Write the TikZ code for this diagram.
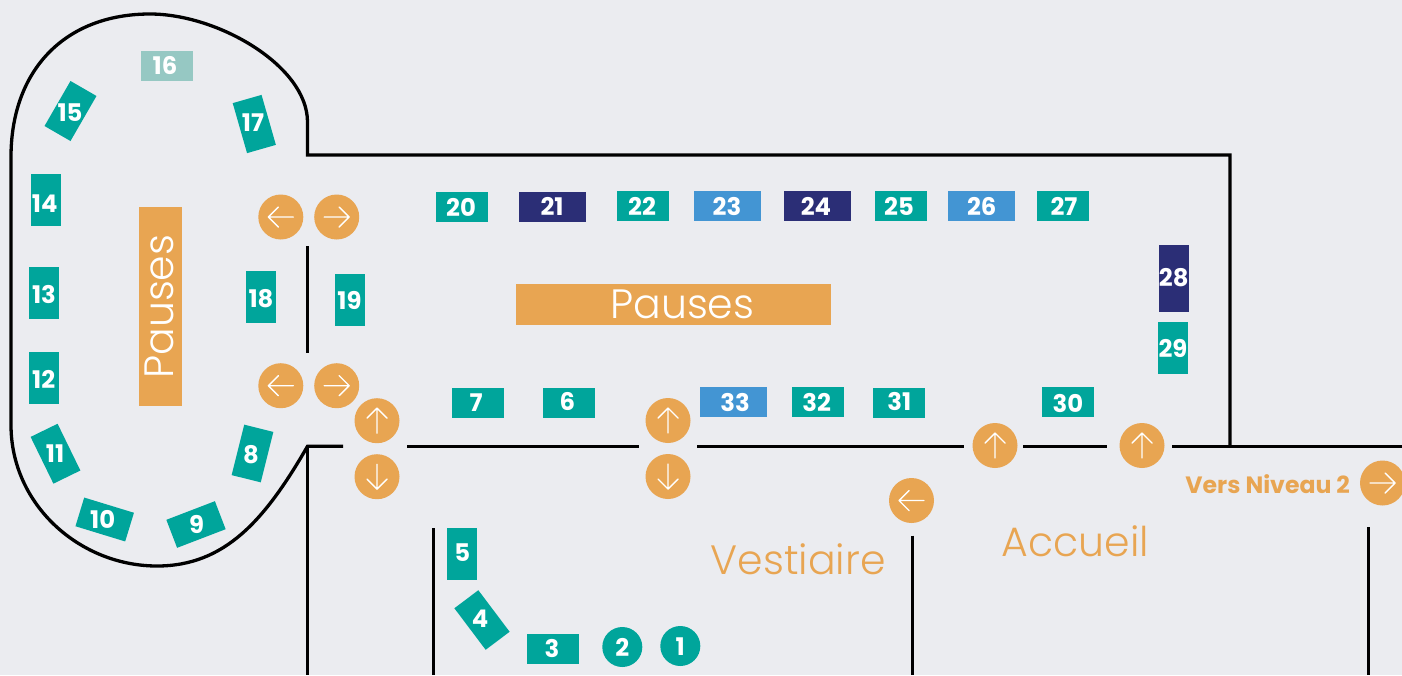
\documentclass[tikz,border=0pt]{standalone}
\usepackage{fontspec}
\setmainfont{Poppins}
\newfontfamily\poplight{Poppins Light}
\definecolor{bgc}{HTML}{EBECF0}
\definecolor{tealc}{HTML}{00A59B}
\definecolor{darkc}{HTML}{2B2E76}
\definecolor{bluec}{HTML}{4395D3}
\definecolor{orangec}{HTML}{E8A552}
\definecolor{palec}{HTML}{96C8C3}
\tikzset{
  stand/.style={fill=#1,draw=none,inner sep=0pt,outer sep=0pt},
  standlabel/.style={text=white,inner sep=0pt,yshift=-0.8pt,font=\fontsize{24.3}{24.3}\selectfont\bfseries},
  wall/.style={draw=black,line width=3.3pt,miter limit=10},
  doorc/.style={circle,fill=orangec,draw=none,minimum size=45pt,inner sep=0pt,outer sep=0pt},
  doorarrow/.style={draw=white,line width=1.4pt,line cap=round,line join=round},
  bigtext/.style={inner sep=0pt,font=\fontsize{41}{41}\selectfont\poplight},
  pausebox/.style={fill=orangec,draw=none,inner sep=0pt,outer sep=0pt}
}
% name, colour, cx, cy, w, h, rotation, label x, label y, text
\newcommand{\standbox}[9]{%
  \node[stand=#2,minimum width=#5pt,minimum height=#6pt,rotate=#7] (s#1) at (#3,#4) {};
  \node[standlabel] (t#1) at (#8,#9) {#1};
}
% name, x, y, angle
\newcommand{\door}[4]{%
  \node[doorc] (#1) at (#2,#3) {};
  \begin{scope}[shift={(#1.center)},rotate=#4]
    \draw[doorarrow] (-12.5,0) -- (12.5,0) (2.5,10) -- (12.5,0) -- (2.5,-10);
  \end{scope}
}
\begin{document}
\begin{tikzpicture}[x=1pt,y=-1pt]
\useasboundingbox (0,0) rectangle (1402,675);
\fill[bgc] (0,0) rectangle (1402,675);
\begin{scope}
\clip (0,0) rectangle (1402,675);
% walls
\draw[wall] (343,446.3) -- (307.5,446.3) .. controls (265,520) and (225,566) .. (157,566)
  .. controls (80,566) and (11,505) .. (11,425) -- (11,157)
  .. controls (11,70) and (65,14) .. (150,14)
  .. controls (218,14) and (307.5,66) .. (307.5,122) -- (307.5,155) -- (1230,155) -- (1230,446.7);
\draw[wall] (307.5,446.3) -- (307.5,675);
\draw[wall] (307.5,246) -- (307.5,353);
\draw[wall] (407,446.7) -- (639,446.7);
\draw[wall] (697,446.7) -- (964,446.7);
\draw[wall] (1023,446.7) -- (1107,446.7);
\draw[wall] (1172,446.7) -- (1402,446.7);
\draw[wall] (433.3,528) -- (433.3,675);
\draw[wall] (912.8,535.5) -- (912.8,675);
\draw[wall] (1368.3,527) -- (1368.3,675);
% pauses
\node[pausebox,minimum width=43pt,minimum height=199pt] (pv) at (160.5,306.5) {};
\node[bigtext,text=white,rotate=90] (pvt) at (159.8,306.7) {Pauses};
\node[pausebox,minimum width=315pt,minimum height=41pt] (ph) at (673.5,304.5) {};
\node[bigtext,text=white] (pht) at (682.3,304.3) {Pauses};
% room names
\node[bigtext,text=orangec] (vest) at (798.3,559) {Vestiaire};
\node[bigtext,text=orangec] (acc) at (1075.5,541) {Accueil};
\node[inner sep=0pt,text=orangec,font=\fontsize{23.6}{23.6}\selectfont\bfseries] (vers) at (1267.7,484.5) {Vers Niveau 2};
% stands
\node[stand=tealc,circle,minimum size=40pt] (s1) at (680.3,646) {};
\node[standlabel] (t1) at (680.3,646) {1};
\node[stand=tealc,circle,minimum size=40pt] (s2) at (622.3,647) {};
\node[standlabel] (t2) at (622.3,647) {2};
\standbox{3}{tealc}{553}{649}{52}{30}{0}{552}{648}
\standbox{4}{tealc}{482}{620}{30}{52}{37}{480}{618.3}
\standbox{5}{tealc}{462}{554}{30}{52}{0}{462.3}{552}
\standbox{6}{tealc}{569}{403}{52}{30}{0}{567.3}{401}
\standbox{7}{tealc}{478}{403}{52}{30}{0}{476}{402.3}
\standbox{8}{tealc}{252.5}{453.5}{30}{52}{-14}{251}{454}
\standbox{9}{tealc}{196}{524.5}{52}{30}{21}{196.7}{524}
\standbox{10}{tealc}{104.7}{519.5}{52}{30}{-17}{102.7}{519}
\standbox{11}{tealc}{55.5}{453.7}{30}{52}{26}{55}{453.3}
\standbox{12}{tealc}{44}{378}{30}{52}{0}{43.7}{379}
\standbox{13}{tealc}{44}{293}{30}{52}{0}{44}{294}
\standbox{14}{tealc}{46}{200}{30}{52}{0}{44.7}{202.7}
\standbox{15}{tealc}{70.5}{111}{30}{52}{-30}{70}{112}
\standbox{16}{palec}{167}{66}{52}{30}{0}{165}{65}
\standbox{17}{tealc}{254.3}{124}{30}{52}{16}{253}{121.7}
\standbox{18}{tealc}{261}{297}{30}{52}{0}{261}{297.7}
\standbox{19}{tealc}{350}{300}{30}{52}{0}{349.5}{300}
\standbox{20}{tealc}{462}{207}{52}{30}{0}{461}{206.5}
\standbox{21}{darkc}{552.5}{207}{67}{30}{0}{552}{206}
\standbox{22}{tealc}{643}{206}{52}{30}{0}{642}{206}
\standbox{23}{bluec}{727.5}{206}{67}{30}{0}{727}{206}
\standbox{24}{darkc}{817.5}{206}{67}{30}{0}{816}{206}
\standbox{25}{tealc}{901}{206}{52}{30}{0}{899}{206}
\standbox{26}{bluec}{981.5}{206}{67}{30}{0}{981.7}{206}
\standbox{27}{tealc}{1063}{206}{52}{30}{0}{1064}{206}
\standbox{28}{darkc}{1174}{278.5}{30}{67}{0}{1173.7}{277}
\standbox{29}{tealc}{1173}{348}{30}{52}{0}{1173}{348}
\standbox{30}{tealc}{1068}{402}{52}{30}{0}{1068}{403}
\standbox{31}{tealc}{899}{403}{52}{30}{0}{899.3}{401}
\standbox{32}{tealc}{818}{402}{52}{30}{0}{816.7}{402}
\standbox{33}{bluec}{733.5}{402}{67}{30}{0}{735}{402}
% doors
\door{d1}{280.8}{217}{180}
\door{d2}{336.7}{217}{0}
\door{d3}{280.8}{385.7}{180}
\door{d4}{336.7}{385.7}{0}
\door{d5}{377}{420.7}{90}
\door{d6}{377}{476.7}{-90}
\door{d7}{668}{420.5}{90}
\door{d8}{668}{476.5}{-90}
\door{d9}{911.5}{500.5}{180}
\door{d10}{995}{445.5}{90}
\door{d11}{1142}{445.5}{90}
\door{d12}{1382.5}{483}{0}
\end{scope}
\end{tikzpicture}
\end{document}
